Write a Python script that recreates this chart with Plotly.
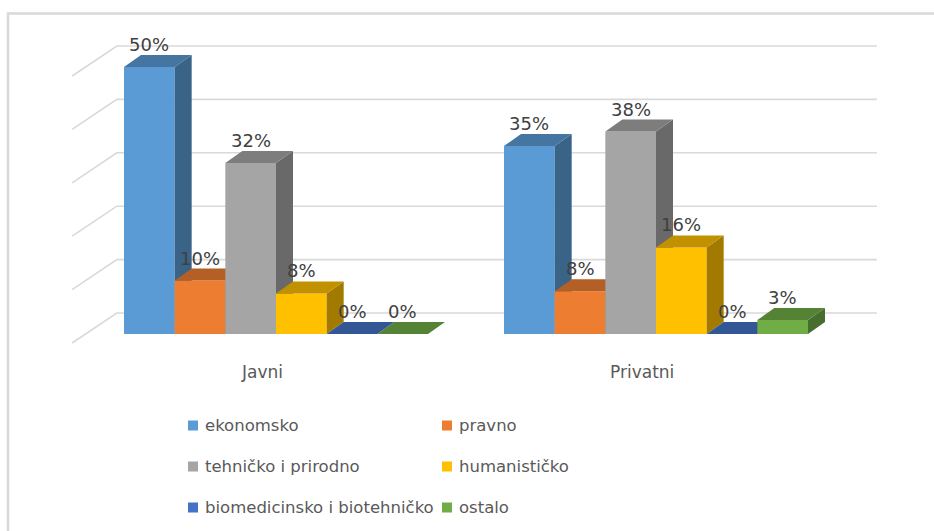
import plotly.graph_objects as go

categories = ["Javni", "Privatni"]
series = [
    "ekonomsko",
    "pravno",
    "tehničko i prirodno",
    "humanističko",
    "biomedicinsko i biotehničko",
    "ostalo",
]
javni = [50, 10, 32, 7.6, 0, 0]
privatni = [35.2, 8, 37.9, 16.2, 0, 2.6]
grid_ticks = [0, 10, 20, 30, 40, 50]

colors = ["#5B9BD5", "#ED7D31", "#A5A5A5", "#FFC000", "#4472C4", "#70AD47"]

W, H = 934, 531
PX_X = 380.0   # pixels per category
PX_Y = 5.34    # pixels per percent
X0_PX, Y0_PX = 276.0, 334.0

GROUP = 0.8
BW = GROUP / len(series)
DX, DY = 17 / PX_X, 12 / PX_Y          # bar depth
FX, FY = -13.85 / PX_X, -9 / PX_Y      # floor front edge
WX, WY = 30.85 / PX_X, 21 / PX_Y       # back wall


def shade(hex_color, f):
    h = hex_color.lstrip("#")
    r, g, b = (int(h[i:i + 2], 16) for i in (0, 2, 4))
    return "rgb({},{},{})".format(int(r * f), int(g * f), int(b * f))


def poly(fig, xs, ys, color):
    fig.add_trace(
        go.Scatter(
            x=xs + [xs[0]],
            y=ys + [ys[0]],
            mode="lines",
            fill="toself",
            fillcolor=color,
            line=dict(width=0, color=color),
            hoverinfo="skip",
            showlegend=False,
        )
    )


fig = go.Figure()

# back wall grid + left wall diagonals
x_lo, x_hi = -0.5, len(categories) - 0.5
for t in grid_ticks:
    fig.add_trace(
        go.Scatter(
            x=[x_lo + FX, x_lo + WX, x_hi + WX],
            y=[t + FY, t + WY, t + WY],
            mode="lines",
            line=dict(color="#D9D9D9", width=1.6),
            hoverinfo="skip",
            showlegend=False,
        )
    )

values = [javni, privatni]
for i, cat in enumerate(categories):
    for j, name in enumerate(series):
        v = values[i][j]
        c = colors[j]
        x0 = i - GROUP / 2 + j * BW
        x1 = x0 + BW
        # front
        poly(fig, [x0, x1, x1, x0], [0, 0, v, v], c)
        # side
        poly(fig, [x1, x1 + DX, x1 + DX, x1], [0, DY, v + DY, v], shade(c, 0.64))
        # top
        poly(fig, [x0, x1, x1 + DX, x0 + DX], [v, v, v + DY, v + DY], shade(c, 0.76))
        fig.add_annotation(
            x=x0 + BW / 2,
            y=v + DY,
            text="{:.0f}%".format(v),
            showarrow=False,
            yanchor="bottom",
            yshift=-2,
            font=dict(family="DejaVu Sans", size=18, color="#404040"),
        )
    fig.add_annotation(
        x=i + FX,
        y=-7.1,
        text=cat,
        showarrow=False,
        font=dict(family="DejaVu Sans", size=17, color="#595959"),
    )

# legend, two columns
leg_cols = [188, 442]
leg_rows = [425.5, 466.5, 507.5]
for k, name in enumerate(series):
    lx = leg_cols[k % 2]
    ly = leg_rows[k // 2]
    fig.add_shape(
        type="rect",
        xref="paper",
        yref="paper",
        x0=lx / W,
        x1=(lx + 10) / W,
        y0=1 - (ly + 5) / H,
        y1=1 - (ly - 5) / H,
        fillcolor=colors[k],
        line=dict(width=0),
    )
    fig.add_annotation(
        xref="paper",
        yref="paper",
        x=(lx + 15) / W,
        y=1 - ly / H,
        xanchor="left",
        yanchor="middle",
        text=name,
        showarrow=False,
        font=dict(family="DejaVu Sans", size=16.5, color="#595959"),
    )

# chart frame (right and bottom edges run off the picture)
fig.add_shape(
    type="rect",
    xref="paper",
    yref="paper",
    x0=8 / W,
    x1=1.02,
    y0=-0.2,
    y1=1 - 13.5 / H,
    line=dict(color="#D9D9D9", width=2.5),
    layer="below",
)

fig.update_xaxes(
    visible=False,
    range=[-X0_PX / PX_X, (W - X0_PX) / PX_X],
)
fig.update_yaxes(
    visible=False,
    range=[-(H - Y0_PX) / PX_Y, Y0_PX / PX_Y],
)
fig.update_layout(
    width=W,
    height=H,
    margin=dict(l=0, r=0, t=0, b=0),
    paper_bgcolor="white",
    plot_bgcolor="white",
    showlegend=False,
    hovermode=False,
)

fig.write_html(
    "out.html",
    config={"displayModeBar": False},
    post_script="document.body.style.margin='0';document.body.style.overflow='hidden';",
)
